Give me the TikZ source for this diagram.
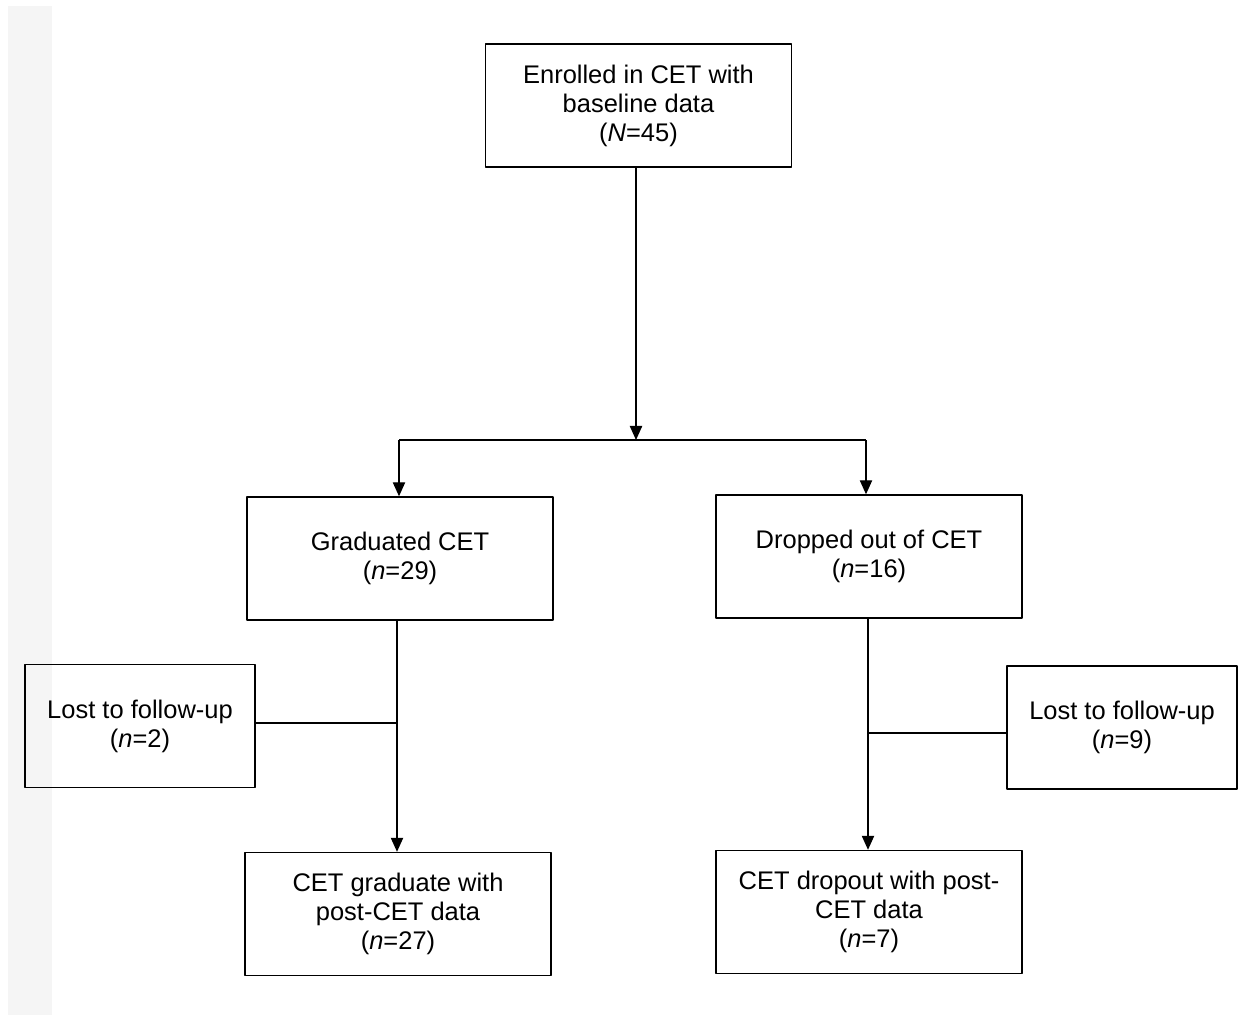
\documentclass[tikz,border=0pt]{standalone}
\usepackage{fontspec}
\setmainfont{Liberation Sans}
\usetikzlibrary{arrows.meta}
\begin{document}
\begin{tikzpicture}[x=0.02cm,y=-0.02cm,line join=round,
	>={Triangle[width=7pt,length=8pt]},
	box/.style={draw,line width=0.8pt,minimum width=306*0.02cm,minimum height=123*0.02cm,align=center,inner sep=0pt,
		font=\fontsize{14.5}{16.5}\selectfont},
	lostbox/.style={box,minimum width=230*0.02cm},
	link/.style={line width=0.8pt}]
	\useasboundingbox (0,0) rectangle (1257,1015);
	\fill[black!4] (8,6) rectangle (52,1015);
	\node[box] (enrol) at (638.5,105.5) {Enrolled in CET with\\baseline data\\(\textit{N}=45)};
	\node[box] (grad) at (400,558.5) {Graduated CET\\(\textit{n}=29)};
	\node[box] (drop) at (869,556.5) {Dropped out of CET\\(\textit{n}=16)};
	\node[lostbox] (lostA) at (140,726) {Lost to follow-up\\(\textit{n}=2)};
	\node[lostbox] (lostB) at (1122,727.5) {Lost to follow-up\\(\textit{n}=9)};
	\node[box] (gradpost) at (398,914) {CET graduate with\\post-CET data\\(\textit{n}=27)};
	\node[box] (droppost) at (869,912) {CET dropout with post-\\CET data\\(\textit{n}=7)};
	\path
	(636,440) coordinate (split)
	(399,440) coordinate (splitA)
	(866,440) coordinate (splitB)
	(397,723) coordinate (joinA)
	(868,733) coordinate (joinB)
	;
	\draw[link,->] (enrol.south-|split)--(split);
	\draw[link] (splitA)--(splitB);
	\draw[link,->] (splitA)--(splitA|-grad.north);
	\draw[link,->] (splitB)--(splitB|-drop.north);
	\draw[link,->] (grad.south-|joinA)--(joinA|-gradpost.north);
	\draw[link] (lostA.east|-joinA)--(joinA);
	\draw[link,->] (drop.south-|joinB)--(joinB|-droppost.north);
	\draw[link] (lostB.west|-joinB)--(joinB);
\end{tikzpicture}
\end{document}
